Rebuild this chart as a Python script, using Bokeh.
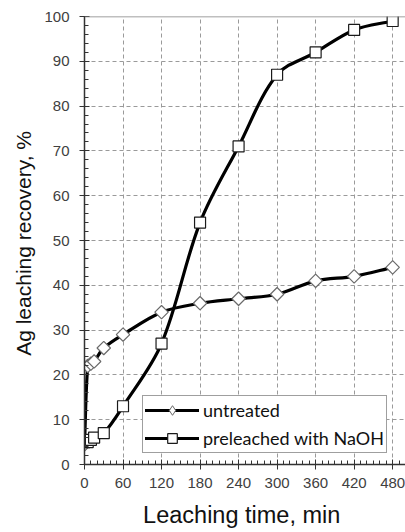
import numpy as np
from bokeh.plotting import figure
from bokeh.models import (SingleIntervalTicker, Range1d, Span, Legend, LegendItem,
                          ColumnDataSource)
from bokeh.embed import file_html
from bokeh.resources import INLINE

# ---- data ----
time_untreated = [0, 5, 10, 15, 30, 60, 120, 180, 240, 300, 360, 420, 480]
rec_untreated = [4.5, 22, 22.5, 23, 26, 29, 34, 36, 37, 38, 41, 42, 44]
time_preleached = [0, 5, 10, 15, 30, 60, 120, 180, 240, 300, 360, 420, 480]
rec_preleached = [5, 5, 5.5, 6, 7, 13, 27, 54, 71, 87, 92, 97, 99]
x_ticks_step = 60
y_ticks_step = 10

W, H = 405, 532
LEFT, TOP = 84, 16
FRAME_BOTTOM = 464
X0, X1 = 0, 500
Y0, Y1 = 0, 100

p = figure(width=W, height=H, output_backend="svg", toolbar_location=None,
           x_range=Range1d(X0, X1), y_range=Range1d(Y0, Y1),
           min_border_left=LEFT, min_border_top=TOP, min_border_right=0,
           min_border_bottom=H - FRAME_BOTTOM)
p.outline_line_color = None
p.background_fill_color = "white"

# pixel scale used for the smoothing (data -> px)
sx = (W - LEFT) / (X1 - X0)
sy = (FRAME_BOTTOM - TOP) / (Y1 - Y0)


def smooth_segments(xs, ys):
    P = np.column_stack([np.asarray(xs, float) * sx, np.asarray(ys, float) * sy])
    n = len(P)
    T = np.zeros_like(P)
    for i in range(n):
        a = P[max(i - 1, 0)]
        b = P[min(i + 1, n - 1)]
        d = b - a
        T[i] = d / (np.hypot(*d) or 1)
    x0, y0, x1, y1, cx0, cy0, cx1, cy1 = ([] for _ in range(8))
    for i in range(n - 1):
        L = np.hypot(*(P[i + 1] - P[i]))
        c1 = P[i] + T[i] * L / 3
        c2 = P[i + 1] - T[i + 1] * L / 3
        x0.append(P[i][0] / sx); y0.append(P[i][1] / sy)
        x1.append(P[i + 1][0] / sx); y1.append(P[i + 1][1] / sy)
        cx0.append(c1[0] / sx); cy0.append(c1[1] / sy)
        cx1.append(c2[0] / sx); cy1.append(c2[1] / sy)
    return ColumnDataSource(dict(x0=x0, y0=y0, x1=x1, y1=y1,
                                 cx0=cx0, cy0=cy0, cx1=cx1, cy1=cy1))


# grid
p.xgrid.ticker = SingleIntervalTicker(interval=x_ticks_step)
p.ygrid.ticker = SingleIntervalTicker(interval=y_ticks_step)
for g in (p.xgrid, p.ygrid):
    g.grid_line_color = "#9a9a9a"
    g.grid_line_dash = "4 3"
    g.grid_line_width = 1

p.add_layout(Span(location=Y1, dimension="width", line_color="#808080", line_width=1.5))

# axes
p.xaxis.ticker = SingleIntervalTicker(interval=x_ticks_step, num_minor_ticks=6)
p.yaxis.ticker = SingleIntervalTicker(interval=y_ticks_step, num_minor_ticks=5)
for ax in (p.xaxis, p.yaxis):
    ax.axis_line_color = "#333333"
    ax.axis_line_width = 1.5
    ax.major_tick_line_color = "#333333"
    ax.minor_tick_line_color = "#333333"
    ax.major_tick_in = 5
    ax.major_tick_out = 5
    ax.minor_tick_in = 4
    ax.minor_tick_out = 0
    ax.major_label_text_font = "Liberation Sans"
    ax.major_label_text_font_size = "15px"
    ax.major_label_text_color = "#404040"
    ax.axis_label_text_font = "Liberation Sans"
    ax.axis_label_text_font_style = "normal"
    ax.axis_label_text_color = "#111111"
p.xaxis.axis_label_text_font_size = "23.5px"
p.yaxis.axis_label_text_font_size = "21px"
p.xaxis.axis_label = "Leaching time,  min"
p.yaxis.axis_label = "Ag leaching recovery,  %"
p.xaxis.major_label_standoff = 8
p.xaxis.axis_label_standoff = 11
p.yaxis.major_label_standoff = 10
p.yaxis.axis_label_standoff = 6

# series
su = smooth_segments(time_untreated, rec_untreated)
b_u = p.bezier(x0="x0", y0="y0", x1="x1", y1="y1", cx0="cx0", cy0="cy0", cx1="cx1", cy1="cy1",
               source=su, line_color="black", line_width=3.2, line_cap="round")
# diamond used for the legend symbol (sits under the drawn markers)
r_leg_dia = p.scatter(time_untreated, rec_untreated, marker="diamond", size=9,
                      fill_color="white", line_color="#6a6a6a", line_width=1)
r_dia = p.scatter(time_untreated, rec_untreated, marker="square", angle=np.pi / 4,
                  size=9.5, fill_color="white", line_color="#6a6a6a", line_width=1.2)

sp = smooth_segments(time_preleached, rec_preleached)
b_p = p.bezier(x0="x0", y0="y0", x1="x1", y1="y1", cx0="cx0", cy0="cy0", cx1="cx1", cy1="cy1",
               source=sp, line_color="black", line_width=3.2, line_cap="round")
r_sq = p.scatter(time_preleached, rec_preleached, marker="square", size=11,
                 fill_color="white", line_color="#1a1a1a", line_width=1.2)

legend = Legend(items=[LegendItem(label="untreated", renderers=[b_u, r_leg_dia]),
                       LegendItem(label="preleached with NaOH", renderers=[b_p, r_sq])],
                location=(58, 11))
legend.label_text_font = "Lato"
legend.label_text_font_size = "18px"
legend.label_text_color = "#111111"
legend.glyph_width = 54
legend.glyph_height = 24
legend.label_height = 24
legend.label_standoff = 4
legend.spacing = 4
legend.padding = 2
legend.margin = 0
legend.border_line_color = "#404040"
legend.border_line_width = 1.2
legend.background_fill_color = "white"
legend.background_fill_alpha = 1
p.add_layout(legend, "center")

open("out.html", "w").write(file_html(p, INLINE))
